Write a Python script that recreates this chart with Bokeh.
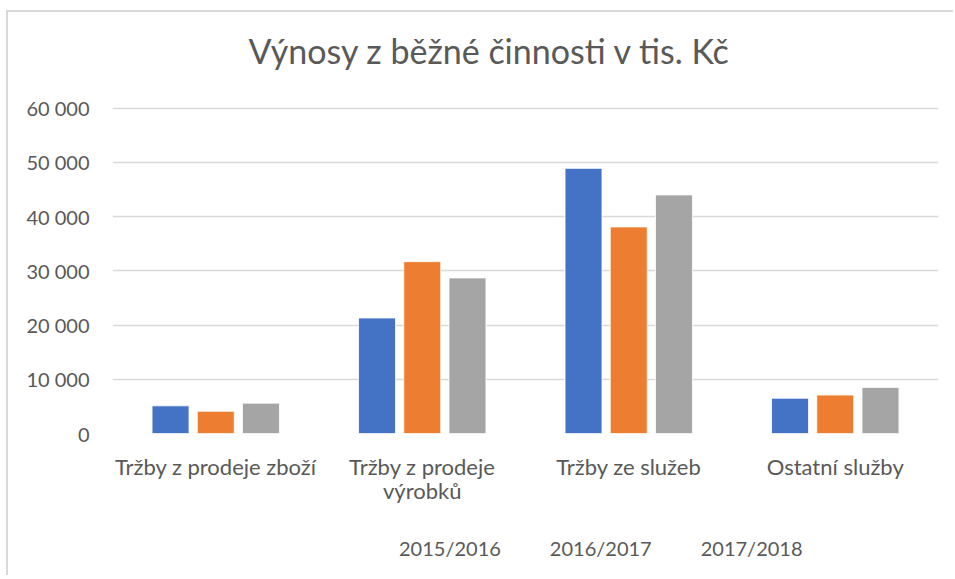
from bokeh.plotting import figure
from bokeh.layouts import column
from bokeh.models import (FactorRange, Range1d, FixedTicker, Legend, LegendItem)
from bokeh.transform import dodge
from bokeh.embed import file_html
from bokeh.resources import INLINE

# ---- data ----
categories = ["Tržby z prodeje zboží", "Tržby z prodeje\nvýrobků", "Tržby ze služeb", "Ostatní služby"]
series_names = ["2015/2016", "2016/2017", "2017/2018"]
values_2015 = [5100, 21300, 48900, 6500]
values_2016 = [4100, 31700, 38100, 7100]
values_2017 = [5600, 28700, 44000, 8500]
y_ticks = [0, 10000, 20000, 30000, 40000, 50000, 60000]
y_tick_labels = ["0", "10 000", "20 000", "30 000", "40 000", "50 000", "60 000"]
title_text = "Výnosy z běžné činnosti v tis. Kč"

colors = ["#4472C4", "#ED7D31", "#A5A5A5"]
FONT = "Lato"
TXT = "#595959"

source = dict(cat=categories, a=values_2015, b=values_2016, c=values_2017)

# ---- main chart ----
p = figure(frame_width=826, frame_height=347,
           x_range=FactorRange(factors=categories, range_padding=0),
           y_range=Range1d(0, 64000), output_backend="svg", toolbar_location=None,
           min_border_left=104, min_border_right=15, min_border_top=74, min_border_bottom=84)
p.outline_line_color = None
p.background_fill_color = "white"
p.border_fill_color = "white"

p.title.text = title_text
p.title.align = "left"
p.title.offset = 136
p.title.text_font = FONT
p.title.text_font_size = "34px"
p.title.text_font_style = "normal"
p.title.text_color = TXT
p.title.standoff = 31

offsets = [-0.219, 0.0, 0.219]
for key, off, col in zip(["a", "b", "c"], offsets, colors):
    p.vbar(x=dodge("cat", off, range=p.x_range), top=key, width=0.179, source=source,
           fill_color=col, line_color="white", line_width=0.8)

p.xgrid.grid_line_color = None
p.ygrid.grid_line_color = "#d9d9d9"
p.ygrid.grid_line_width = 1.5
p.yaxis.ticker = FixedTicker(ticks=y_ticks)
p.yaxis.major_label_overrides = {t: l for t, l in zip(y_ticks, y_tick_labels)}
p.yaxis.axis_line_color = None
p.yaxis.major_tick_line_color = None
p.yaxis.minor_tick_line_color = None
p.yaxis.major_tick_out = 0
p.yaxis.major_label_standoff = 23
p.yaxis.major_label_text_font = FONT
p.yaxis.major_label_text_font_size = "20px"
p.yaxis.major_label_text_color = TXT

p.xaxis.axis_line_color = None
p.xaxis.major_tick_line_color = None
p.xaxis.major_tick_out = 0
p.xaxis.major_label_standoff = 19
p.xaxis.major_label_text_font = FONT
p.xaxis.major_label_text_font_size = "22px"
p.xaxis.major_label_text_color = TXT
p.xaxis.major_label_text_line_height = 0.92

# ---- legend strip (separate figure so the legend is not clipped) ----
lg = figure(width=945, height=58, x_range=Range1d(0, 1), y_range=Range1d(0, 1),
            output_backend="svg", toolbar_location=None, min_border=0,
            x_axis_location=None, y_axis_location=None)
lg.outline_line_color = None
lg.grid.visible = False
lg.background_fill_color = "white"
lg.border_fill_color = "white"

swatches = [lg.vbar(x=[], top=[], width=0.1, fill_color=col, line_color=None) for col in colors]
legend = Legend(items=[LegendItem(label=n, renderers=[r]) for n, r in zip(series_names, swatches)],
                orientation="horizontal", location=(267, 15), padding=0, margin=0, spacing=29,
                glyph_width=14, glyph_height=14, label_standoff=6,
                label_text_font=FONT, label_text_font_size="20px", label_text_color=TXT,
                border_line_color=None, background_fill_alpha=0)
lg.add_layout(legend, "center")

layout = column(p, lg, spacing=0)
layout.styles = {"margin-left": "6px", "margin-top": "10px",
                 "border-left": "2px solid #d9d9d9", "border-top": "2px solid #d9d9d9"}

open("out.html", "w").write(file_html(layout, INLINE))
